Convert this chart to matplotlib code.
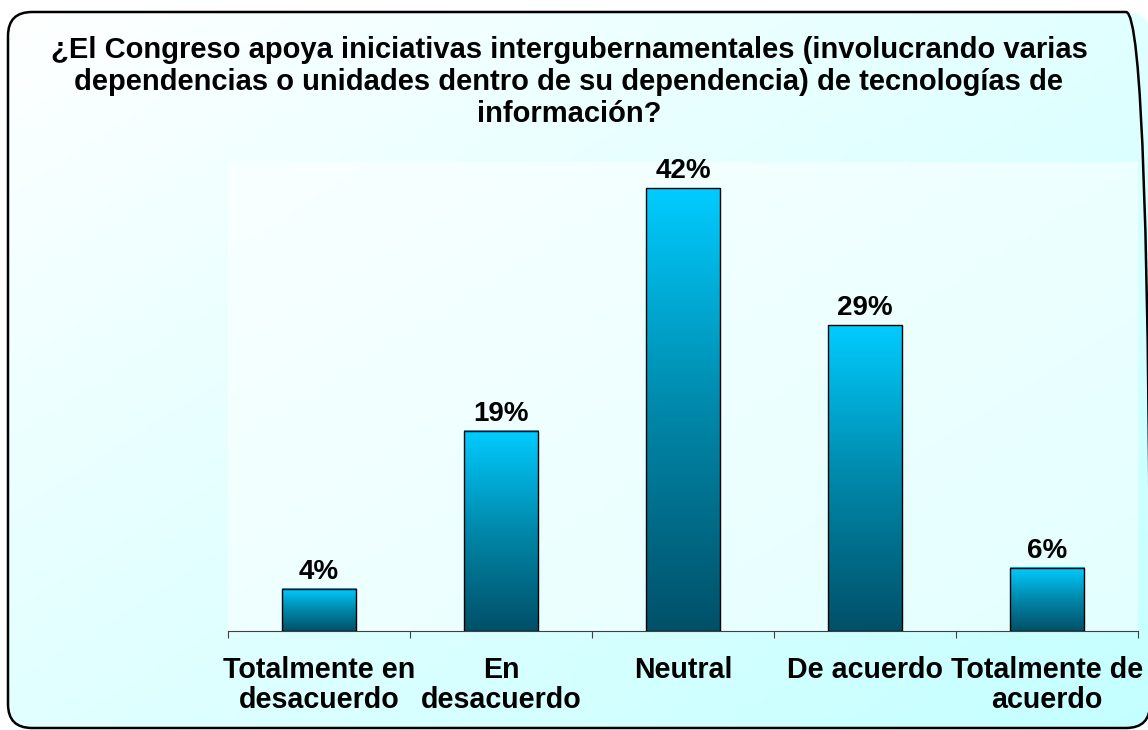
import matplotlib.pyplot as plt
import numpy as np
from matplotlib.colors import LinearSegmentedColormap, to_rgb
from matplotlib.patches import FancyBboxPatch, Rectangle

# Data
categories = ['Totalmente en\ndesacuerdo', 'En\ndesacuerdo', 'Neutral',
              'De acuerdo', 'Totalmente de\nacuerdo']
values = [4, 19, 42, 29, 6]
title = ('¿El Congreso apoya iniciativas intergubernamentales (involucrando varias\n'
         'dependencias o unidades dentro de su dependencia) de tecnologías de\n'
         'información?')

W, H = 1148, 730
plt.rcParams['font.family'] = ['Liberation Sans', 'DejaVu Sans']
plt.rcParams['font.weight'] = 'bold'

fig = plt.figure(figsize=(W / 100, H / 100), dpi=100, facecolor='white')

# Background: diagonal gradient inside a rounded frame
bg = fig.add_axes([0, 0, 1, 1], zorder=-5)
bg.set_xlim(0, W)
bg.set_ylim(0, H)
bg.axis('off')
yy, xx = np.mgrid[0:1:200j, 0:1:300j]
t = (xx + (1 - yy)) / 2  # 0 at top-left, 1 at bottom-right
c0 = np.array(to_rgb('#ffffff'))
c1 = np.array(to_rgb('#c4ffff'))
grad = c0 + (c1 - c0) * t[..., None]
frame = FancyBboxPatch((8, 2), W - 8 + 2, H - 14, boxstyle='round,pad=0,rounding_size=24',
                       facecolor='none', edgecolor='black', linewidth=1.8)
bg.add_patch(frame)
im = bg.imshow(grad, extent=[0, W, 0, H], origin='lower', aspect='auto')
im.set_clip_path(frame)

# Main axes
ax = fig.add_axes([228 / W, 1 - 631 / H, (1138 - 228) / W, (631 - 162) / H])
ax.set_facecolor((1, 1, 1, 0.5))

cmap = LinearSegmentedColormap.from_list('bar', ['#005068', '#0088aa', '#00ccff'])
bar_w = 0.41
x = np.arange(len(categories))
for xi, v in zip(x, values):
    g = np.linspace(0, 1, 256).reshape(-1, 1)
    ax.imshow(g, extent=[xi - bar_w / 2, xi + bar_w / 2, 0, v], origin='lower',
              aspect='auto', cmap=cmap, zorder=2)
    ax.add_patch(Rectangle((xi - bar_w / 2, 0), bar_w, v, facecolor='none',
                           edgecolor='black', linewidth=1.0, zorder=3))
    ax.annotate(f'{v}%', (xi, v), xytext=(0, 3), textcoords='offset points',
                ha='center', va='bottom', fontsize=20, fontweight='bold')

ax.set_xlim(-0.5, len(categories) - 0.5)
ax.set_ylim(0, 44.5)

for s in ['top', 'left', 'right']:
    ax.spines[s].set_visible(False)
ax.spines['bottom'].set_color('#404040')
ax.spines['bottom'].set_linewidth(0.8)
ax.set_yticks([])
ax.set_xticks(np.arange(-0.5, len(categories), 1.0))
ax.set_xticklabels([])
ax.tick_params(axis='x', which='major', length=5, color='#404040', direction='out')
ax.set_xticks(x, minor=True)
ax.set_xticklabels(categories, minor=True, fontsize=20.6, fontweight='bold',
                   linespacing=1.1)
ax.tick_params(axis='x', which='minor', length=0, pad=18)

fig.text(569 / W, 1 - 82 / H, title, ha='center', va='center', fontsize=21,
         fontweight='bold', linespacing=1.2)

fig.savefig('out.png', dpi=100)
